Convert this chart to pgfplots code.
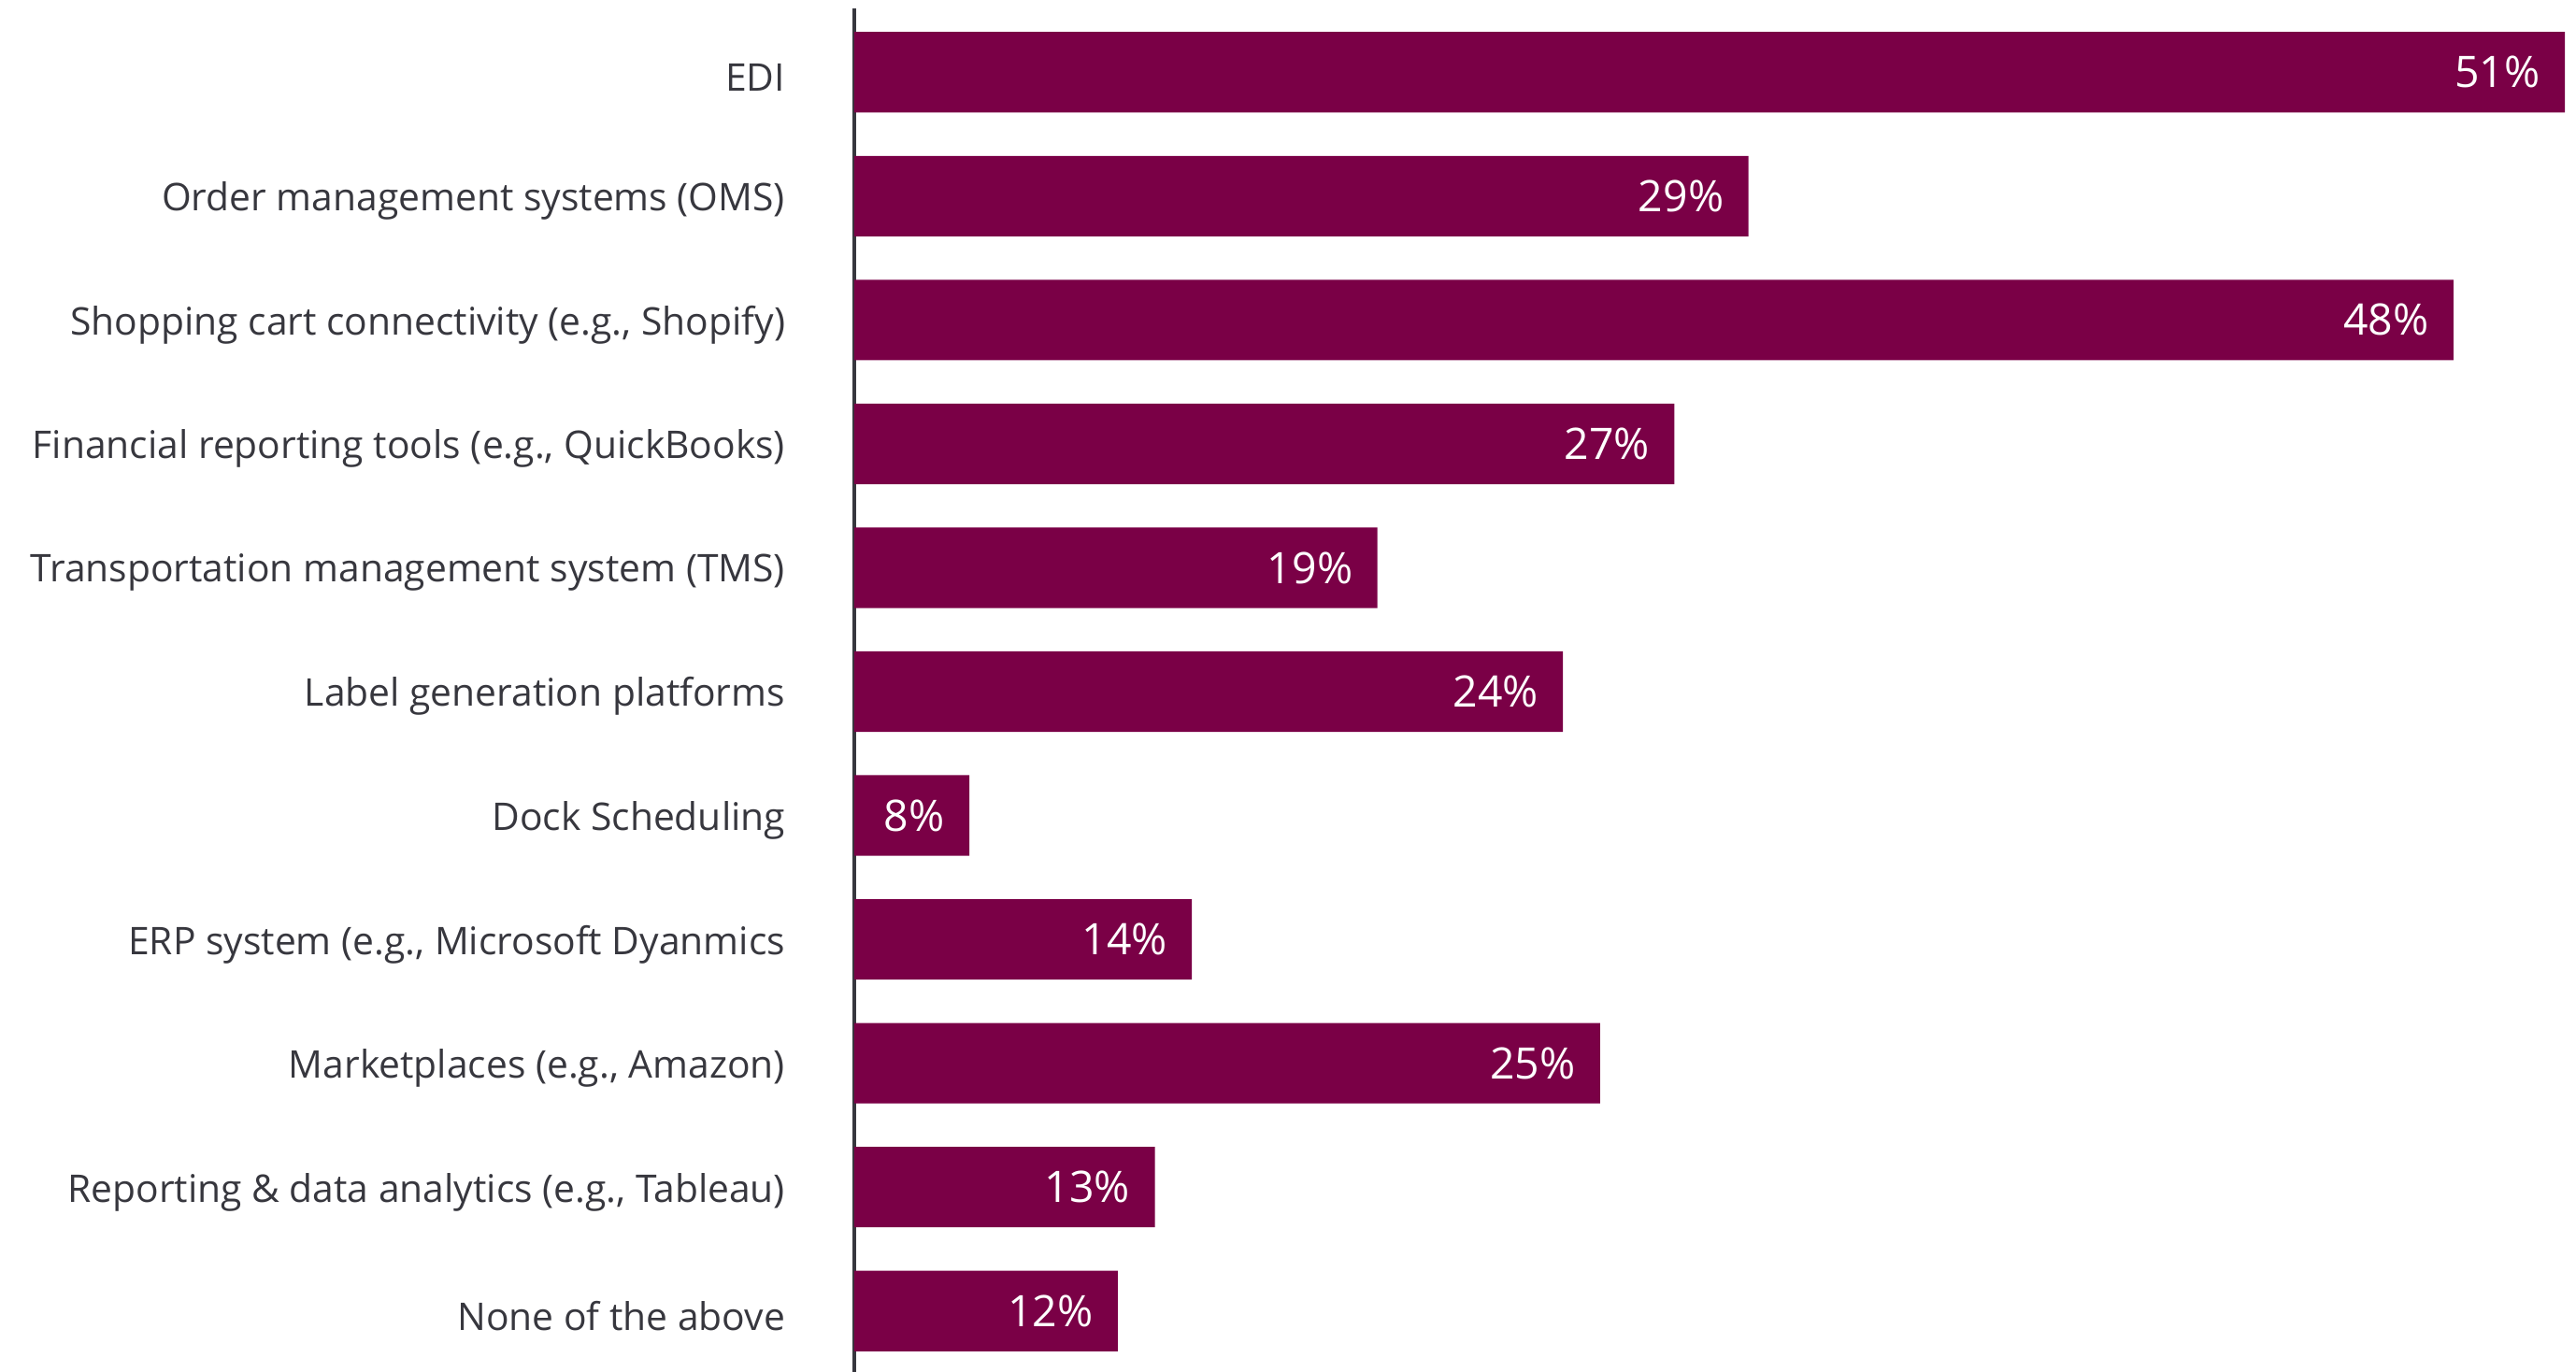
\documentclass[border=0pt]{standalone}
\usepackage{pgfplots}
\pgfplotsset{compat=1.18}
\usepackage{fontspec}
\setmainfont{Open Sans}
\definecolor{barcol}{RGB}{122,0,70}
\definecolor{txt}{RGB}{55,55,62}
\begin{document}
\begin{tikzpicture}
\begin{axis}[
  width=524pt, height=415pt, scale only axis,
  xbar, bar width=0.65,
  xmin=4.9, xmax=51.3,
  ymin=-0.517, ymax=10.49, y dir=reverse,
  axis x line=none, axis y line=left,
  y axis line style={-, draw=txt, line width=0.9pt},
  ytick={0,...,10},
  yticklabels={EDI, Order management systems (OMS), {Shopping cart connectivity (e.g., Shopify)}, {Financial reporting tools (e.g., QuickBooks)}, Transportation management system (TMS), Label generation platforms, Dock Scheduling, {ERP system (e.g., Microsoft Dyanmics}, {Marketplaces (e.g., Amazon)}, {Reporting \& data analytics (e.g., Tableau)}, None of the above},
  major tick length=0pt,
  yticklabel style={font=\fontsize{11.6}{13}\selectfont, text=txt, anchor=east, xshift=-17.5pt, yshift=-1.5pt},
  /pgf/number format/assume math mode=true,
  point meta=x,
  nodes near coords={\pgfmathprintnumber{\pgfplotspointmeta}\%},
  nodes near coords style={anchor=east, xshift=-4pt, text=white, font=\fontsize{13.2}{15}\selectfont},
  clip=false,
]
\addplot[fill=barcol, draw=none] coordinates {
(51,0) (29,1) (48,2) (27,3) (19,4) (24,5) (8,6) (14,7) (25,8) (13,9) (12,10)
};
\end{axis}
\pgfresetboundingbox
\path[use as bounding box] ([xshift=-260pt]current axis.south west) rectangle ([yshift=2.5pt]current axis.north east);
\end{tikzpicture}
\end{document}
